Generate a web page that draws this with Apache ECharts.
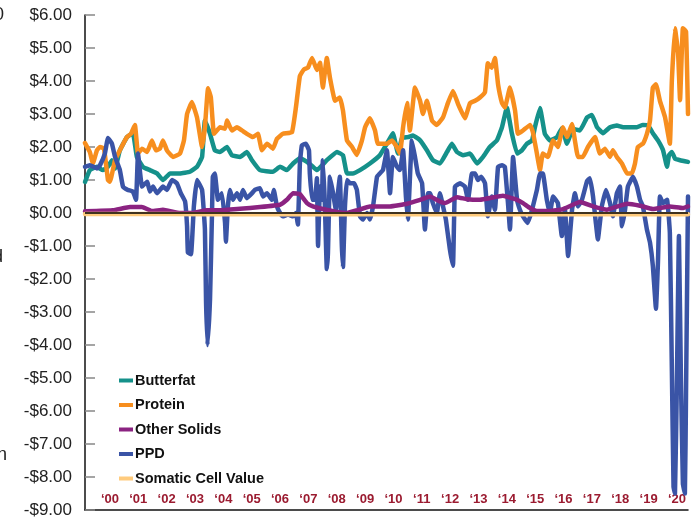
<!DOCTYPE html>
<html>
<head>
<meta charset="utf-8">
<script src="https://cdn.jsdelivr.net/npm/echarts@6/dist/echarts.min.js"></script>
<style>
  html, body { margin: 0; padding: 0; background: #fff; }
  #chart { width: 695px; height: 523px; }
</style>
</head>
<body>
<div id="chart"></div>
<script>
// year labels shown along the bottom
const yearTicks = [2000, 2001, 2002, 2003, 2004, 2005, 2006, 2007, 2008, 2009, 2010,
  2011, 2012, 2013, 2014, 2015, 2016, 2017, 2018, 2019, 2020]

// [year, $ value]
const butterfat = [
  [1999.12, 0.94], [1999.29, 1.3], [1999.54, 1.4], [1999.75, 1.3], [1999.93, 1.4], [2000.07, 1.6], [2000.18, 1.35],
  [2000.35, 1.9], [2000.60, 2.3], [2000.81, 2.42], [2000.95, 1.7], [2001.16, 1.4], [2001.41, 1.3], [2001.66, 1.2],
  [2001.87, 1.0], [2002.12, 1.2], [2002.47, 1.2], [2002.82, 1.25], [2003.07, 1.4], [2003.25, 1.7], [2003.35, 2.8],
  [2003.53, 2.4], [2003.70, 1.9], [2003.88, 1.85], [2004.13, 2.0], [2004.30, 1.75], [2004.59, 1.7], [2004.83, 1.85],
  [2005.01, 1.6], [2005.29, 1.3], [2005.75, 1.25], [2006.00, 1.4], [2006.24, 1.3], [2006.46, 1.5], [2006.70, 1.66],
  [2006.95, 1.55], [2007.16, 1.4], [2007.30, 1.3], [2007.65, 1.6], [2008.01, 1.85], [2008.22, 1.75], [2008.36, 1.2],
  [2008.57, 1.2], [2008.82, 1.3], [2009.17, 1.5], [2009.52, 1.75], [2009.77, 2.1], [2009.98, 2.42], [2010.16, 1.8],
  [2010.30, 2.27], [2010.51, 2.3], [2010.69, 2.35], [2010.94, 2.2], [2011.18, 1.9], [2011.39, 1.6], [2011.64, 1.5],
  [2011.89, 1.85], [2012.06, 2.1], [2012.24, 1.85], [2012.45, 1.75], [2012.70, 1.8], [2012.95, 1.5], [2013.16, 1.7],
  [2013.40, 2.0], [2013.65, 2.2], [2013.83, 2.6], [2014.00, 3.2], [2014.18, 2.4], [2014.36, 1.8], [2014.53, 1.9],
  [2014.71, 2.1], [2014.89, 2.2], [2014.99, 2.6], [2015.17, 3.18], [2015.34, 2.4], [2015.52, 2.2], [2015.77, 2.3],
  [2015.94, 2.57], [2016.12, 2.1], [2016.33, 2.55], [2016.58, 2.5], [2016.83, 2.9], [2017.00, 2.97], [2017.18, 2.6],
  [2017.39, 2.42], [2017.64, 2.6], [2017.88, 2.65], [2018.10, 2.6], [2018.34, 2.6], [2018.59, 2.6], [2018.80, 2.67],
  [2018.98, 2.65], [2019.15, 2.42], [2019.33, 2.2], [2019.51, 1.9], [2019.65, 1.4], [2019.72, 1.75], [2019.82, 1.85],
  [2019.93, 1.65], [2020.11, 1.6], [2020.39, 1.55]
]

const protein = [
  [1999.12, 2.12], [1999.29, 1.85], [1999.40, 1.5], [1999.54, 1.9], [1999.65, 2.0], [1999.79, 1.95], [1999.93, 1.0],
  [2000.00, 0.95], [2000.18, 1.6], [2000.35, 1.9], [2000.60, 2.3], [2000.74, 2.4], [2000.88, 2.67], [2000.99, 1.8],
  [2001.13, 1.95], [2001.31, 1.85], [2001.48, 2.2], [2001.62, 1.9], [2001.76, 1.95], [2001.87, 2.2], [2002.01, 1.9],
  [2002.22, 1.7], [2002.47, 1.8], [2002.61, 2.2], [2002.72, 3.0], [2002.89, 3.36], [2003.07, 2.9], [2003.25, 2.0],
  [2003.35, 2.6], [2003.46, 3.78], [2003.56, 3.5], [2003.67, 2.4], [2003.88, 2.6], [2004.06, 2.55], [2004.13, 2.8],
  [2004.30, 2.5], [2004.48, 2.6], [2004.66, 2.5], [2004.83, 2.4], [2005.04, 2.3], [2005.22, 2.4], [2005.36, 1.9],
  [2005.54, 2.1], [2005.75, 1.95], [2005.89, 2.25], [2006.10, 2.4], [2006.42, 2.45], [2006.56, 3.2], [2006.70, 4.15],
  [2006.84, 4.35], [2006.98, 4.4], [2007.13, 4.7], [2007.30, 4.33], [2007.41, 4.55], [2007.51, 3.8], [2007.65, 4.7],
  [2007.76, 4.1], [2007.94, 3.4], [2008.11, 3.5], [2008.22, 3.1], [2008.36, 2.2], [2008.54, 2.0], [2008.71, 1.76],
  [2008.89, 2.2], [2009.00, 2.6], [2009.17, 2.87], [2009.35, 2.5], [2009.45, 2.1], [2009.77, 2.1], [2009.95, 2.2],
  [2010.12, 2.0], [2010.23, 1.8], [2010.34, 2.6], [2010.48, 3.33], [2010.58, 2.5], [2010.76, 3.8], [2010.94, 3.4],
  [2011.04, 3.0], [2011.18, 3.4], [2011.36, 2.8], [2011.53, 2.67], [2011.75, 2.9], [2011.92, 3.33], [2012.10, 3.7],
  [2012.28, 3.3], [2012.52, 2.87], [2012.70, 3.33], [2012.88, 3.4], [2013.05, 3.5], [2013.23, 3.67], [2013.33, 4.54],
  [2013.47, 4.4], [2013.58, 4.7], [2013.69, 3.9], [2013.83, 3.33], [2013.93, 3.2], [2014.11, 3.8], [2014.29, 3.1],
  [2014.39, 2.4], [2014.57, 2.5], [2014.82, 2.67], [2014.92, 2.45], [2015.06, 1.8], [2015.17, 1.3], [2015.27, 1.8],
  [2015.45, 1.7], [2015.63, 2.2], [2015.80, 2.0], [2015.98, 2.6], [2016.12, 2.3], [2016.30, 2.7], [2016.40, 2.2],
  [2016.51, 1.7], [2016.68, 1.7], [2016.86, 2.0], [2017.11, 2.3], [2017.28, 1.8], [2017.46, 1.95], [2017.64, 1.7],
  [2017.74, 1.9], [2017.88, 1.7], [2018.06, 1.5], [2018.24, 1.2], [2018.41, 1.2], [2018.52, 1.5], [2018.62, 2.0],
  [2018.80, 2.1], [2018.94, 2.4], [2019.05, 2.8], [2019.15, 3.8], [2019.26, 3.9], [2019.40, 3.4], [2019.58, 2.9],
  [2019.75, 2.1], [2019.82, 4.0], [2019.93, 5.6], [2020.04, 4.85], [2020.11, 3.42], [2020.21, 5.6], [2020.32, 5.5],
  [2020.39, 3.0]
]

const otherSolids = [
  [1999.12, 0.05], [2000.11, 0.08], [2000.71, 0.18], [2001.13, 0.18], [2001.48, 0.06], [2001.87, 0.1], [2002.47, 0.0],
  [2002.89, 0.0], [2003.42, 0.08], [2003.88, 0.08], [2004.59, 0.13], [2005.29, 0.18], [2006.00, 0.25], [2006.24, 0.4],
  [2006.46, 0.6], [2006.70, 0.57], [2006.95, 0.3], [2007.16, 0.2], [2007.51, 0.12], [2008.01, 0.03], [2008.36, 0.0],
  [2008.71, 0.08], [2009.17, 0.2], [2009.88, 0.2], [2010.48, 0.28], [2010.94, 0.4], [2011.29, 0.5], [2011.64, 0.35],
  [2011.82, 0.3], [2012.24, 0.48], [2012.59, 0.42], [2013.05, 0.4], [2013.86, 0.52], [2014.36, 0.4], [2014.57, 0.3],
  [2014.82, 0.15], [2015.06, 0.06], [2015.52, 0.06], [2015.98, 0.12], [2016.58, 0.33], [2017.04, 0.2], [2017.53, 0.1],
  [2018.24, 0.28], [2018.70, 0.22], [2019.15, 0.12], [2019.75, 0.2], [2020.21, 0.15], [2020.39, 0.2]
]

const ppd = [
  [1999.12, 1.4], [1999.29, 1.45], [1999.54, 1.35], [1999.65, 1.45], [1999.82, 1.8], [1999.93, 2.27], [2000.07, 2.1],
  [2000.18, 1.7], [2000.35, 1.3], [2000.46, 0.8], [2000.63, 0.7], [2000.81, 0.65], [2000.92, 0.4], [2000.99, 1.8],
  [2001.13, 0.8], [2001.31, 0.95], [2001.41, 0.65], [2001.52, 0.8], [2001.66, 0.6], [2001.87, 0.8], [2002.01, 0.7],
  [2002.19, 1.0], [2002.36, 0.9], [2002.50, 0.6], [2002.65, 0.35], [2002.72, -0.4], [2002.75, -1.2], [2002.86, -1.25],
  [2002.96, 0.2], [2003.07, 1.0], [2003.25, 0.7], [2003.35, -0.5], [2003.39, -2.7], [2003.44, -4.0], [2003.53, -2.6],
  [2003.60, 0.0], [2003.63, 1.1], [2003.70, 1.2], [2003.81, 0.4], [2003.95, 0.6], [2004.06, -0.3], [2004.09, -0.87],
  [2004.16, 0.2], [2004.23, 0.7], [2004.34, 0.4], [2004.48, 0.6], [2004.59, 0.4], [2004.69, 0.7], [2004.83, 0.45],
  [2005.01, 0.6], [2005.11, 0.7], [2005.29, 0.75], [2005.40, 0.5], [2005.54, 0.6], [2005.71, 0.4], [2005.78, 0.7],
  [2005.89, 0.2], [2006.00, 0.0], [2006.10, -0.1], [2006.28, -0.05], [2006.46, -0.1], [2006.56, 0.0], [2006.63, -0.35],
  [2006.70, 1.5], [2006.77, 2.05], [2006.91, 2.1], [2007.02, 1.9], [2007.05, 1.2], [2007.13, 0.4], [2007.23, 0.4],
  [2007.30, 1.05], [2007.34, -1.0], [2007.41, 0.8], [2007.48, 0.4], [2007.51, 1.6], [2007.58, 0.3], [2007.65, -1.7],
  [2007.69, -1.2], [2007.76, 1.1], [2007.87, 0.6], [2007.97, 0.1], [2008.04, 0.6], [2008.11, 1.1], [2008.18, -1.0],
  [2008.22, -1.64], [2008.29, 0.2], [2008.36, 1.0], [2008.47, 0.9], [2008.61, 0.9], [2008.71, 0.7], [2008.82, -0.1],
  [2008.92, -0.2], [2009.07, 0.0], [2009.17, -0.2], [2009.28, 0.2], [2009.42, 1.1], [2009.52, 1.2], [2009.63, 1.3],
  [2009.77, 1.9], [2009.88, 0.6], [2009.98, 1.7], [2010.12, 1.4], [2010.23, 1.3], [2010.34, 1.9], [2010.44, 0.5],
  [2010.51, -0.2], [2010.65, 2.2], [2010.76, 1.7], [2010.86, 1.2], [2011.01, 0.9], [2011.11, -0.5], [2011.22, 0.6],
  [2011.29, 0.6], [2011.39, 0.3], [2011.53, 0.0], [2011.64, 0.6], [2011.75, 0.2], [2011.85, -0.2], [2011.99, -1.1],
  [2012.10, -1.6], [2012.17, 0.8], [2012.35, 0.9], [2012.52, 0.8], [2012.63, 0.4], [2012.77, 1.2], [2012.88, 1.2],
  [2012.98, 1.0], [2013.09, 1.1], [2013.23, 0.9], [2013.33, -0.1], [2013.47, 0.5], [2013.58, 0.1], [2013.69, 1.4],
  [2013.83, 1.45], [2013.93, 1.4], [2014.04, 0.3], [2014.11, -0.5], [2014.22, 1.7], [2014.36, 0.4], [2014.46, 0.1],
  [2014.57, -0.1], [2014.74, -0.3], [2014.89, 0.1], [2015.06, 0.7], [2015.17, 1.2], [2015.27, 1.2], [2015.41, 0.4],
  [2015.52, 0.0], [2015.63, 0.5], [2015.80, 0.3], [2015.94, -0.7], [2016.05, 0.1], [2016.16, -1.3], [2016.30, 0.1],
  [2016.40, 0.6], [2016.51, 0.2], [2016.65, 0.4], [2016.83, 0.97], [2016.93, 1.05], [2017.04, 0.5], [2017.14, -0.3],
  [2017.21, -0.8], [2017.35, 0.2], [2017.50, 0.7], [2017.64, 0.3], [2017.74, -0.1], [2017.88, 0.6], [2017.99, 0.8],
  [2018.06, -0.4], [2018.17, 0.1], [2018.27, 0.8], [2018.45, 1.1], [2018.59, 0.8], [2018.70, 0.4], [2018.80, 0.2],
  [2018.94, -0.5], [2019.05, -0.9], [2019.15, -1.6], [2019.26, -2.9], [2019.33, -1.5], [2019.40, 0.5], [2019.51, 0.3],
  [2019.65, 0.4], [2019.75, -0.6], [2019.82, -4.7], [2019.88, -8.3], [2019.93, -8.5], [2020.00, -5.0], [2020.07, -0.7],
  [2020.14, -5.0], [2020.21, -8.2], [2020.28, -8.5], [2020.32, -5.5], [2020.39, 0.5]
]

const somatic = [
  [1999.12, -0.03], [2002.0, -0.03], [2005.0, -0.04], [2010.0, -0.04], [2015.0, -0.04], [2020.39, -0.04]
]

const FONT = '"Liberation Sans", Arial, sans-serif'
const chart = echarts.init(document.getElementById('chart'))

function lineSeries(name, data, color, width) {
  return {
    name: name,
    type: 'line',
    data: data,
    showSymbol: false,
    symbol: 'none',
    smooth: 0.1,
    lineStyle: { color: color, width: width, join: 'round', cap: 'round' },
    itemStyle: { color: color }
  }
}

const somaticSeries = lineSeries('Somatic Cell Value', somatic, '#FFCB7D', 4.5)
// black zero line
somaticSeries.markLine = {
  silent: true,
  symbol: 'none',
  label: { show: false },
  lineStyle: { color: '#000', width: 1.5, type: 'solid' },
  data: [{ yAxis: 0 }]
}

const option = {
  animation: false,
  textStyle: { fontFamily: FONT },
  grid: { left: 85, right: 7, top: 15, bottom: 13, containLabel: false },
  legend: {
    data: ['Butterfat', 'Protein', 'Other Solids', 'PPD', 'Somatic Cell Value'],
    orient: 'vertical',
    left: 114,
    top: 367,
    icon: 'rect',
    itemWidth: 14,
    itemHeight: 4,
    itemGap: 7.5,
    textStyle: { fontFamily: FONT, fontSize: 14.5, fontWeight: 'bold', color: '#111', lineHeight: 17, padding: [0, 0, 0, -3] }
  },
  xAxis: {
    type: 'value',
    min: 1999.12,
    max: 2020.39,
    axisLine: { show: true, onZero: false, lineStyle: { color: '#111', width: 1.5 } },
    axisTick: { show: false },
    splitLine: { show: false },
    axisLabel: {
      customValues: yearTicks,
      inside: true,
      margin: 4,
      color: '#9B1B30',
      fontFamily: FONT,
      fontSize: 13,
      fontWeight: 'bold',
      formatter: v => '\u2018' + String(Math.round(v)).slice(2)
    }
  },
  yAxis: {
    type: 'value',
    min: -9,
    max: 6,
    interval: 1,
    axisLine: { show: true, lineStyle: { color: '#111', width: 1.5 } },
    axisTick: { show: true, inside: true, length: 10, lineStyle: { color: '#888', width: 1.5 } },
    splitLine: { show: false },
    axisLabel: {
      margin: 13,
      color: '#222',
      fontFamily: FONT,
      fontSize: 17,
      formatter: v => (v < 0 ? '-$' : '$') + Math.abs(v).toFixed(2)
    }
  },
  graphic: [
    { type: 'text', left: -6, top: 6, style: { text: '0', font: '18px ' + FONT, fill: '#222' } },
    { type: 'text', left: -7, top: 248, style: { text: 'd', font: '18px ' + FONT, fill: '#222' } },
    { type: 'text', left: -3, top: 446, style: { text: 'n', font: '18px ' + FONT, fill: '#222' } }
  ],
  series: [
    lineSeries('Butterfat', butterfat, '#15918A', 4.5),
    lineSeries('Protein', protein, '#F78E1E', 4.5),
    lineSeries('PPD', ppd, '#3A54A6', 4.5),
    lineSeries('Other Solids', otherSolids, '#8B2381', 4.5),
    somaticSeries
  ]
}

chart.setOption(option)
</script>
</body>
</html>
